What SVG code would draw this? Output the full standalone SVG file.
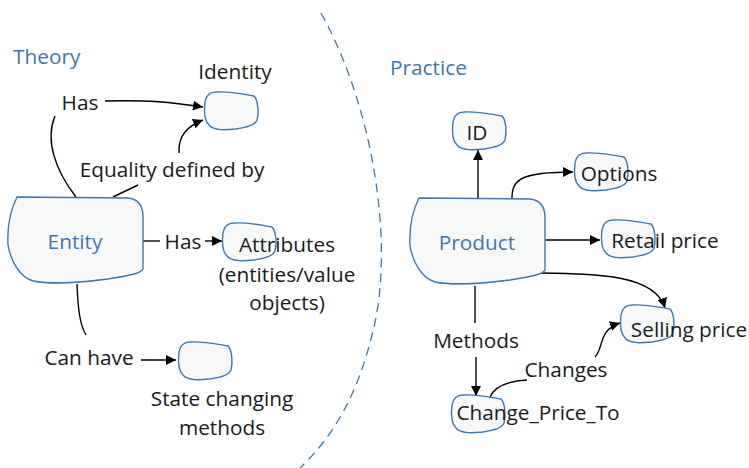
<svg xmlns="http://www.w3.org/2000/svg" xmlns:xlink="http://www.w3.org/1999/xlink" width="749" height="468" viewBox="0 0 749 468">
<style>
.t{font-family:"Open Sans","Noto Sans","Liberation Sans",sans-serif;font-size:20.8px;fill:#1a1a1a}
.b{fill:#3d77ad}
.c{fill:none;stroke:#000;stroke-width:1.4}
.a{marker-end:url(#arr)}
.n{fill:#f7f9f9;stroke:#3d77ad;stroke-width:1.4}
</style>
<defs>
<marker id="arr" viewBox="0 0 10 10" refX="10" refY="5" markerWidth="10" markerHeight="10" markerUnits="userSpaceOnUse" orient="auto"><path d="M0,0L10,5L0,10Z" fill="#000"/></marker>
<path id="blob" d="M12,0 C25,-1 38,2 50,4 C54,8 55,20 53,28 C51,33 44,35 32,37 C22,38 10,39 5,33 C0,28 0,18 1,10 C2,4 6,0 12,0 Z"/>
<path id="big" d="M9,0 L120,1 C130,2 135,8 135,20 L135,72 C133,76 125,78 100,82 C70,86 40,87 25,84 C12,80 3,65 0,48 C-1,30 3,12 9,0 Z"/>
</defs>
<rect width="749" height="468" fill="#fff"/>
<path d="M321,13 C375,110 395,250 372,335 C358,392 335,435 300,468" fill="none" stroke="#3d77ad" stroke-width="1.3" stroke-dasharray="9,6"/>
<text class="t b" x="13" y="64" font-size="20.5">Theory</text>
<text class="t b" x="390" y="75" font-size="20.5">Practice</text>
<g id="connectors">
<path class="c a" d="M105,101 C150,100 170,102 203,107"/>
<path class="c a" d="M179,153 C178,135 188,126 203,120"/>
<path class="c" d="M55,116 C45,140 55,170 76,197"/>
<path class="c" d="M138,185 L113,197"/>
<path class="c" d="M143,241 L160,241"/>
<path class="c a" d="M205,241 L222,241"/>
<path class="c" d="M77,284 C78,310 80,325 86,335"/>
<path class="c a" d="M141,360 L176,360"/>
<path class="c a" d="M478,198 L478,150"/>
<path class="c a" d="M512,198 C512,180 520,172 573,172"/>
<path class="c a" d="M546,240 L600,240"/>
<path class="c a" d="M541,273 C600,274 655,275 665,308"/>
<path class="c" d="M475,286 L475,323"/>
<path class="c a" d="M476,357 L476,396"/>
<path class="c" d="M490,397 C495,386 510,381 527,380"/>
<path class="c a" d="M595,357 C604,348 598,330 620,323"/>
</g>
<g id="identity"><use xlink:href="#blob" class="n" x="204" y="92"/><text class="t" x="235" y="79" text-anchor="middle">Identity</text></g>
<g id="entity"><use xlink:href="#big" class="n" x="8" y="197"/><text class="t b" x="75" y="249" text-anchor="middle">Entity</text></g>
<g id="attributes"><use xlink:href="#blob" class="n" x="222" y="223"/><text class="t" x="287" y="252" text-anchor="middle">Attributes</text><text class="t" x="287" y="282" text-anchor="middle">(entities/value</text><text class="t" x="287" y="310" text-anchor="middle">objects)</text></g>
<g id="state"><use xlink:href="#blob" class="n" x="178" y="342"/><text class="t" x="222" y="406" text-anchor="middle">State changing</text><text class="t" x="222" y="435" text-anchor="middle">methods</text></g>
<g id="lbl-theory">
<text class="t" x="80" y="110" text-anchor="middle">Has</text>
<text class="t" x="172" y="177" text-anchor="middle">Equality defined by</text>
<text class="t" x="183" y="249" text-anchor="middle">Has</text>
<text class="t" x="89" y="365" text-anchor="middle">Can have</text>
</g>
<g id="product"><use xlink:href="#big" class="n" x="410" y="198"/><text class="t b" x="477" y="250" text-anchor="middle">Product</text></g>
<g id="id"><use xlink:href="#blob" class="n" x="452" y="112"/><text class="t" x="477" y="140" text-anchor="middle">ID</text></g>
<g id="options"><use xlink:href="#blob" class="n" x="574" y="153"/><text class="t" x="619" y="181" text-anchor="middle">Options</text></g>
<g id="retail"><use xlink:href="#blob" class="n" x="601" y="220"/><text class="t" x="665" y="248" text-anchor="middle">Retail price</text></g>
<g id="selling"><use xlink:href="#blob" class="n" x="620" y="305"/><text class="t" x="689" y="337" text-anchor="middle">Selling price</text></g>
<g id="change"><use xlink:href="#blob" class="n" x="451" y="395"/><text class="t" x="538" y="420" text-anchor="middle">Change_Price_To</text></g>
<g id="lbl-practice">
<text class="t" x="476" y="348" text-anchor="middle">Methods</text>
<text class="t" x="566" y="377" text-anchor="middle">Changes</text>
</g>
</svg>
